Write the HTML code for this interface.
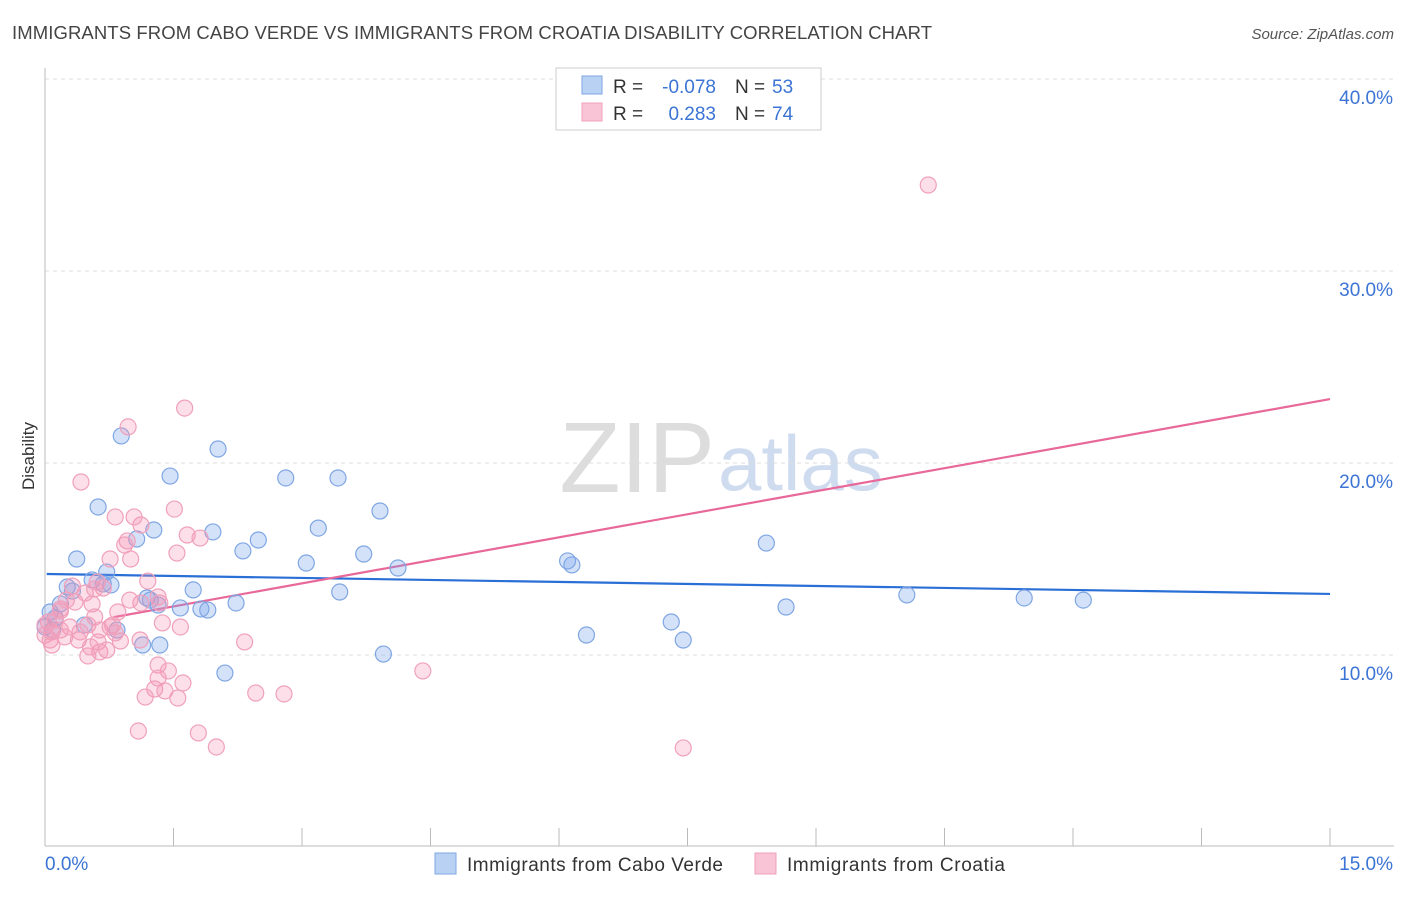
<!DOCTYPE html>
<html><head><meta charset="utf-8"><style>
body{margin:0;background:#fff;font-family:"Liberation Sans",sans-serif;}
svg text{font-family:"Liberation Sans",sans-serif;}
</style></head><body>
<svg id="chart" width="1406" height="892" xmlns="http://www.w3.org/2000/svg">
<text x="12" y="39" font-size="18.5" fill="#444" textLength="920">IMMIGRANTS FROM CABO VERDE VS IMMIGRANTS FROM CROATIA DISABILITY CORRELATION CHART</text>
<text x="1394" y="39" font-size="15" fill="#555" font-style="italic" text-anchor="end">Source: ZipAtlas.com</text>
<text x="715" y="492" font-size="100" fill="#ddd" font-family="Liberation Serif" text-anchor="end">ZIP</text>
<text x="718" y="490" font-size="78" fill="#cfdcef">atlas</text>
<text x="34" y="456" font-size="17" fill="#333" text-anchor="middle" transform="rotate(-90 34 456)">Disability</text>
<g id="grid"></g><g id="axes"></g><g id="lines"></g><g id="pts"></g>
<g>
<rect x="556" y="68" width="265" height="62" fill="#fff" stroke="#ccc"/>
<rect x="582" y="76" width="20" height="18" fill="#b9d1f3" stroke="#7fa6e3"/>
<rect x="582" y="103" width="20" height="18" fill="#f9c5d6" stroke="#f0a0bb"/>
<text x="613" y="93" font-size="19" fill="#333">R =</text>
<text x="716" y="93" font-size="19" fill="#3b74d4" text-anchor="end">-0.078</text>
<text x="735" y="93" font-size="19" fill="#333">N =</text>
<text x="772" y="93" font-size="19" fill="#3b74d4">53</text>
<text x="613" y="120" font-size="19" fill="#333">R =</text>
<text x="716" y="120" font-size="19" fill="#3b74d4" text-anchor="end">0.283</text>
<text x="735" y="120" font-size="19" fill="#333">N =</text>
<text x="772" y="120" font-size="19" fill="#3b74d4">74</text>
</g>
<g>
<rect x="435" y="853" width="21" height="21" fill="#b9d1f3" stroke="#7fa6e3"/>
<text x="467" y="871" font-size="19" fill="#333" textLength="256">Immigrants from Cabo Verde</text>
<rect x="755" y="853" width="21" height="21" fill="#f9c5d6" stroke="#f0a0bb"/>
<text x="787" y="871" font-size="19" fill="#333" textLength="218">Immigrants from Croatia</text>
</g>
</svg>
<script>
const yTicks=[10,20,30,40];
const yTickLabels=["10.0%","20.0%","30.0%","40.0%"];
const xTickLabels=["0.0%","15.0%"];
const blueX=[0.89,0.37,0.62,1.46,2.02,2.81,3.42,3.91,3.19,2.49,1.96,2.31,1.27,1.07,3.72,4.12,3.05,6.15,6.10,8.42,0.26,0.32,0.55,0.68,0.77,0.72,0.18,0.06,0.12,1.19,1.32,1.23,1.73,1.58,1.82,1.90,2.23,3.44,10.06,11.43,12.12,8.65,7.31,7.45,6.32,3.95,2.10,1.34,1.14,0.84,0.46,0.09,0.0];
const blueY=[21.41,15.0,17.71,19.32,20.73,19.22,19.22,17.5,16.61,15.99,16.41,15.42,16.51,16.04,15.26,14.53,14.79,14.69,14.90,15.83,13.54,13.33,13.91,13.70,13.65,14.32,12.66,12.24,11.93,12.97,12.60,12.86,13.39,12.45,12.40,12.34,12.71,13.28,13.13,12.97,12.86,12.5,11.72,10.78,11.04,10.05,9.06,10.52,10.52,11.30,11.56,11.30,11.46];
const pinkX=[10.31,1.63,0.97,0.42,1.51,1.12,0.82,1.04,0.96,0.93,1.66,1.81,1.54,0.76,1.00,1.20,0.61,0.68,0.32,0.18,0.35,0.55,0.85,1.12,1.32,1.34,0.79,1.58,1.37,0.58,0.50,0.29,0.18,0.08,0.04,0.12,0.0,0.06,0.23,0.41,0.62,0.88,2.33,0.64,0.50,0.72,1.32,1.44,1.61,1.32,1.28,1.40,1.17,1.55,2.46,2.79,1.09,1.79,2.0,7.45,4.41,0.18,0.25,0.47,0.64,0.0,0.39,0.53,0.76,1.11,0.58,0.08,0.99,0.82];
const pinkY=[34.48,22.86,21.88,19.01,17.60,16.77,17.19,17.19,15.94,15.73,16.25,16.09,15.31,15.0,15.0,13.85,13.80,13.49,13.59,12.40,12.76,12.66,12.24,12.71,13.02,12.71,11.56,11.46,11.67,11.98,11.56,11.46,11.30,11.20,11.72,11.82,11.04,10.78,10.94,11.20,10.68,10.73,10.68,10.16,9.95,10.26,9.48,9.17,8.54,8.80,8.23,8.13,7.81,7.76,8.02,7.97,6.04,5.94,5.21,5.16,9.17,12.29,12.86,13.23,11.30,11.56,10.78,10.42,11.46,10.78,13.44,10.52,12.86,11.15];
const blueTrend=[[0.02,14.22],[15,13.18]];
const pinkTrend=[[0.8,11.97],[15,23.33]];
const NS="http://www.w3.org/2000/svg";
const sx=v=>45+v*85.67, sy=v=>847-v*19.2;
function mk(tag,attrs,parent){const e=document.createElementNS(NS,tag);for(const k in attrs)e.setAttribute(k,attrs[k]);document.getElementById(parent).appendChild(e);return e;}
yTicks.forEach((t,i)=>{
 const g=mk('line',{x1:45,x2:1394,y1:sy(t),y2:sy(t),stroke:'#ddd','stroke-dasharray':'4,4'},'grid');
 
 
 const l=mk('text',{x:1393,y:sy(t)+25,'font-size':19,fill:'#3b74d4','text-anchor':'end'},'axes');
 l.textContent=yTickLabels[i];
 
 
});
const ax=mk('line',{x1:45,x2:1394,y1:846,y2:846,stroke:'#bbb'},'axes');


const ay=mk('line',{x1:45,x2:45,y1:68,y2:846,stroke:'#bbb'},'axes');


for(let i=1;i<=10;i++){const x=45+i*128.5;const t=mk('line',{x1:x,x2:x,y1:828,y2:846,stroke:'#bbb'},'axes');
 
 }
[[0,'start',45],[1,'end',1393]].forEach(([i,a,x])=>{const t=mk('text',{x:x,y:870,'font-size':19,fill:'#3b74d4','text-anchor':a},'axes');t.textContent=xTickLabels[i];
 
 });
function pts(X,Y,fill,stroke,name){X.forEach((v,i)=>{const c=mk('circle',{cx:sx(v),cy:sy(Y[i]),r:8,fill:fill,stroke:stroke,'stroke-width':1.2},'pts');
 
 });}
pts(blueX,blueY,'rgba(120,165,235,0.32)','#7fa6e3','point-cabo-verde');
pts(pinkX,pinkY,'rgba(245,150,180,0.3)','#f0a0bb','point-croatia');
const bl=mk('line',{x1:sx(blueTrend[0][0]),y1:sy(blueTrend[0][1]),x2:sx(blueTrend[1][0]),y2:sy(blueTrend[1][1]),stroke:'#2a6fd6','stroke-width':2.2},'lines');


const pl=mk('line',{x1:sx(pinkTrend[0][0]),y1:sy(pinkTrend[0][1]),x2:sx(pinkTrend[1][0]),y2:sy(pinkTrend[1][1]),stroke:'#e8689a','stroke-width':2.2},'lines');


</script>
</body></html>
